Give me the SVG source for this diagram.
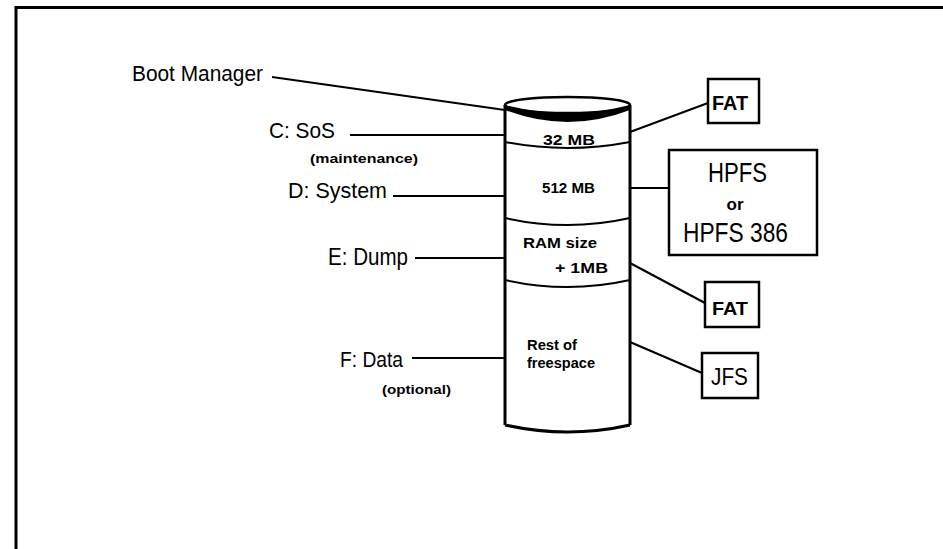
<svg xmlns="http://www.w3.org/2000/svg" width="943" height="549" viewBox="0 0 943 549">
<style>
.lbl{font-family:"Liberation Sans",Arial,sans-serif;fill:#000}
.in{font-family:"Liberation Sans",Arial,sans-serif;font-weight:bold;fill:#000}
.ln{stroke:#000;stroke-width:2;fill:none}
.cyl{stroke:#000;stroke-width:3;fill:none}
.box{stroke:#000;stroke-width:2.5;fill:#fff}
</style>
<rect x="0" y="0" width="943" height="549" fill="#fff"/>
<g id="frame">
<path d="M16,549 V7.5 H943" stroke="#000" stroke-width="3" fill="none"/>
</g>
<g id="connectors">
<path class="ln" d="M272,77 L505,110"/>
<path class="ln" d="M350,135 H505"/>
<path class="ln" d="M393,196 H505"/>
<path class="ln" d="M415,258 H505"/>
<path class="ln" d="M412,358 H505"/>
<path class="ln" d="M630,132 L708,103"/>
<path class="ln" d="M630,188 H669"/>
<path class="ln" d="M630,263 L705,303"/>
<path class="ln" d="M630,342 L702,373"/>
</g>
<g id="disk">
<ellipse cx="567.5" cy="105" rx="62.5" ry="8" fill="#fff" stroke="#000" stroke-width="2.5"/>
<path d="M505,105 Q567.5,121 630,105 L630,110 Q567.5,134 505,110 Z" fill="#000"/>
<path class="cyl" d="M505,105 V425"/>
<path class="cyl" d="M630,105 V425"/>
<path class="ln" d="M505,142 Q567.5,154 630,142"/>
<path class="ln" d="M505,218 Q567.5,232 630,218"/>
<path class="ln" d="M505,280 Q567.5,294 630,280"/>
<path class="cyl" d="M505,425 Q567.5,439 630,425"/>
<text class="in" x="543" y="145" font-size="14" textLength="52" lengthAdjust="spacingAndGlyphs">32 MB</text>
<text class="in" x="542" y="193" font-size="14" textLength="53" lengthAdjust="spacingAndGlyphs">512 MB</text>
<text class="in" x="523" y="248" font-size="14" textLength="74" lengthAdjust="spacingAndGlyphs">RAM size</text>
<text class="in" x="555" y="273" font-size="14" textLength="53" lengthAdjust="spacingAndGlyphs">+ 1MB</text>
<text class="in" x="527" y="350" font-size="14" textLength="50" lengthAdjust="spacingAndGlyphs">Rest of</text>
<text class="in" x="527" y="368" font-size="14" textLength="68" lengthAdjust="spacingAndGlyphs">freespace</text>
</g>
<g id="boot-manager"><text class="lbl" x="132" y="81" font-size="22" textLength="131" lengthAdjust="spacingAndGlyphs">Boot Manager</text></g>
<g id="c-sos">
<text class="lbl" x="269" y="138" font-size="22" textLength="66" lengthAdjust="spacingAndGlyphs">C: SoS</text>
<text class="in" x="310" y="163" font-size="12" textLength="108" lengthAdjust="spacingAndGlyphs">(maintenance)</text>
</g>
<g id="d-system"><text class="lbl" x="288" y="198" font-size="22" textLength="99" lengthAdjust="spacingAndGlyphs">D: System</text></g>
<g id="e-dump"><text class="lbl" x="328" y="265" font-size="23" textLength="80" lengthAdjust="spacingAndGlyphs">E: Dump</text></g>
<g id="f-data">
<text class="lbl" x="340" y="367" font-size="22" textLength="63" lengthAdjust="spacingAndGlyphs">F: Data</text>
<text class="in" x="382" y="394" font-size="12" textLength="69" lengthAdjust="spacingAndGlyphs">(optional)</text>
</g>
<g id="fat-1">
<rect class="box" x="708" y="79" width="51" height="44"/>
<text class="in" x="712" y="110" font-size="21" textLength="36" lengthAdjust="spacingAndGlyphs">FAT</text>
</g>
<g id="hpfs">
<rect class="box" x="669" y="150" width="148" height="105"/>
<text class="lbl" x="737.5" y="182" font-size="27" text-anchor="middle" textLength="59" lengthAdjust="spacingAndGlyphs">HPFS</text>
<text class="in" x="735" y="210" font-size="17" text-anchor="middle">or</text>
<text class="lbl" x="735.5" y="242" font-size="28" text-anchor="middle" textLength="105" lengthAdjust="spacingAndGlyphs">HPFS 386</text>
</g>
<g id="fat-2">
<rect class="box" x="705" y="282" width="54" height="45"/>
<text class="in" x="712" y="315" font-size="19" textLength="36" lengthAdjust="spacingAndGlyphs">FAT</text>
</g>
<g id="jfs">
<rect class="box" x="702" y="353" width="56" height="45"/>
<text class="lbl" x="711" y="385" font-size="24" textLength="37" lengthAdjust="spacingAndGlyphs">JFS</text>
</g>
</svg>
